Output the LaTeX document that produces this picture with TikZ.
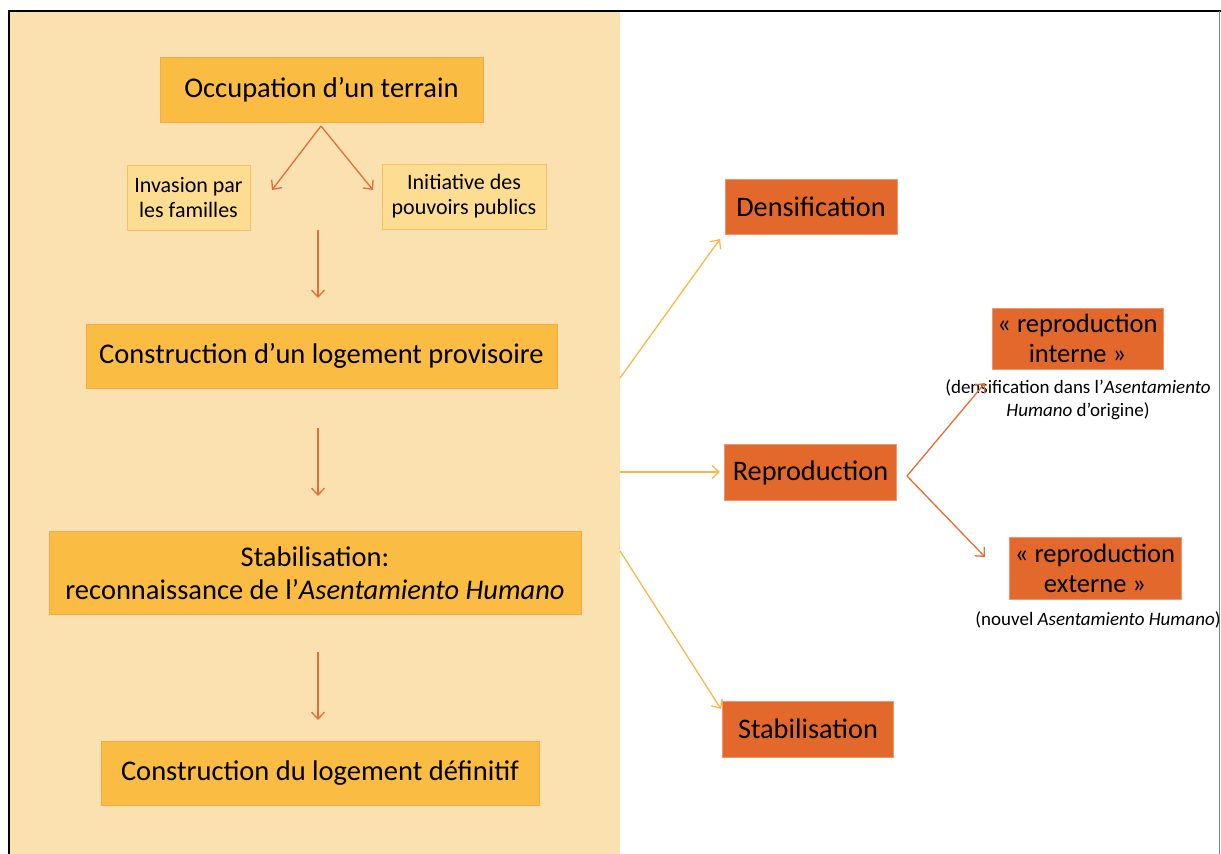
\documentclass[tikz,border=0pt]{standalone}
\usepackage{fontspec}
\setmainfont{Carlito}
\usetikzlibrary{arrows.meta,calc}
\definecolor{panel}{RGB}{251,224,176}
\definecolor{mainfill}{RGB}{251,188,68}
\definecolor{mainline}{RGB}{247,168,72}
\definecolor{subfill}{RGB}{253,221,146}
\definecolor{subline}{RGB}{251,192,100}
\definecolor{redfill}{RGB}{226,105,43}
\definecolor{redline}{RGB}{238,150,110}
\definecolor{arrred}{RGB}{228,110,52}
\definecolor{arryel}{RGB}{249,185,73}
\tikzset{
  mainbox/.style={draw=mainline,fill=mainfill,line width=1pt,inner sep=0pt,align=center,font=\fontsize{28.5}{33}\selectfont},
  subbox/.style={draw=subline,fill=subfill,line width=1pt,inner sep=0pt,align=center,font=\fontsize{22}{25}\selectfont},
  redbox/.style={draw=redline,fill=redfill,line width=0.8pt,inner sep=0pt,align=center,font=\fontsize{28.3}{30}\selectfont},
  caption/.style={inner sep=0pt,align=center,font=\fontsize{19}{23}\selectfont},
  arrR/.style={draw=arrred,line width=1.3pt,-{Straight Barb[length=7pt,width=13pt,line width=1.3pt]}},
  arrY/.style={draw=arryel,line width=1.3pt,-{Straight Barb[length=7pt,width=13pt,line width=1.3pt]}}
}
\begin{document}
\begin{tikzpicture}[x=1pt,y=-1pt]
\useasboundingbox (0,0) rectangle (1221,854);
\fill[white] (0,0) rectangle (1221,854);
\fill[panel] (9,12) rectangle (620,854);
\draw[black,line width=2pt] (8,11) -- (1221,11);
\draw[black,line width=1.5pt] (9,11) -- (9,854);
\draw[gray,line width=1.2pt] (1219.5,11) -- (1219.5,854);

% left column
\node[mainbox,minimum width=323pt,minimum height=65pt] (occ) at (321.5,89.5) {Occupation d’un terrain};
\node[subbox,minimum width=123pt,minimum height=65pt] (inv) at (188.5,197.5) {Invasion par\\les familles};
\node[subbox,minimum width=164pt,minimum height=65pt] (ini) at (464,196.5) {Initiative des\\pouvoirs publics};
\node[mainbox,minimum width=471pt,minimum height=64pt] (prov) at (321.5,356) {Construction d’un logement provisoire};
\node[mainbox,minimum width=532pt,minimum height=83pt] (stab) at (315,573) {Stabilisation:\\reconnaissance de l’\textit{Asentamiento Humano}};
\node[mainbox,minimum width=438pt,minimum height=64pt] (def) at (320,773) {Construction du logement définitif};

% right column
\node[redbox,minimum width=172pt,minimum height=55pt] (dens) at (811,206.5) {Densification};
\node[redbox,minimum width=172pt,minimum height=56pt] (repro) at (810.5,472.5) {Reproduction};
\node[redbox,minimum width=171pt,minimum height=56pt] (stab2) at (808,729) {Stabilisation};
\node[redbox,minimum width=171pt,minimum height=61pt,font=\fontsize{26.5}{30}\selectfont] (rint) at (1077.5,338.5) {« reproduction\\interne »};
\node[redbox,minimum width=172pt,minimum height=62pt,font=\fontsize{26.5}{30}\selectfont] (rext) at (1095,568.5) {« reproduction\\externe »};
\node[caption,anchor=north] (cint) at (1078,379) {(densification dans l’\textit{Asentamiento}\\\textit{Humano} d’origine)};
\node[caption,anchor=north] (cext) at (1098,611) {(nouvel \textit{Asentamiento Humano})};

% connector points
\coordinate (split) at (321,126);
\coordinate (invt) at (272,190);
\coordinate (init) at (373,190);
\coordinate (d1a) at (318,230);
\coordinate (d1b) at (318,298);
\coordinate (d2a) at (318,428);
\coordinate (d2b) at (318,496);
\coordinate (d3a) at (318,652);
\coordinate (d3b) at (318,720);
\coordinate (y1a) at (620,378);
\coordinate (y1b) at (720,239);
\coordinate (y2a) at (620,472);
\coordinate (y2b) at (720,472);
\coordinate (y3a) at (620,551);
\coordinate (y3b) at (721,709);
\coordinate (rsplit) at (907,476);
\coordinate (rtop) at (985,383);
\coordinate (rbot) at (985,557);

\draw[arrR] (split) -- (invt);
\draw[arrR] (split) -- (init);
\draw[arrR] (d1a) -- (d1b);
\draw[arrR] (d2a) -- (d2b);
\draw[arrR] (d3a) -- (d3b);
\draw[arrY] (y1a) -- (y1b);
\draw[arrY] (y2a) -- (y2b);
\draw[arrY] (y3a) -- (y3b);
\draw[arrR] (rsplit) -- (rtop);
\draw[arrR] (rsplit) -- (rbot);
\end{tikzpicture}
\end{document}
